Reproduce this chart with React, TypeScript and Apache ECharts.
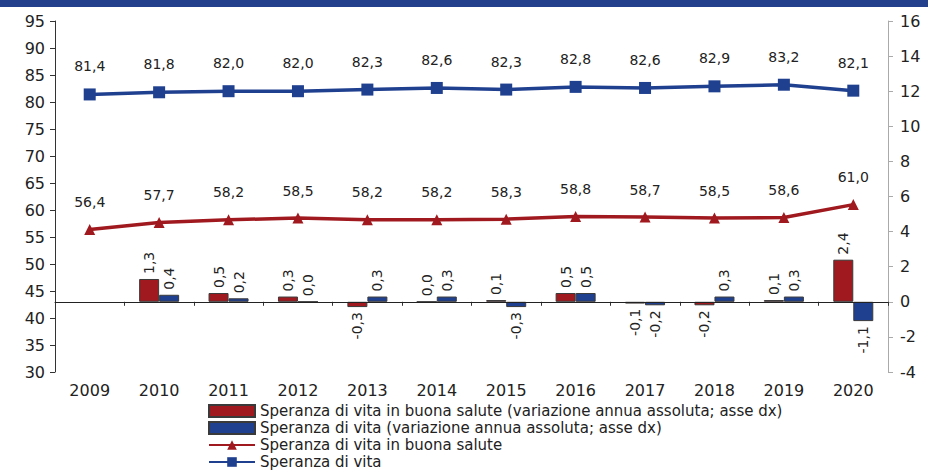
import React, { useEffect, useRef } from "react";
import * as echarts from "echarts";

const years = ["2009", "2010", "2011", "2012", "2013", "2014", "2015", "2016", "2017", "2018", "2019", "2020"];
const lifeExp = [81.4, 81.8, 82.0, 82.0, 82.3, 82.6, 82.3, 82.8, 82.6, 82.9, 83.2, 82.1];
const healthyLifeExp = [56.4, 57.7, 58.2, 58.5, 58.2, 58.2, 58.3, 58.8, 58.7, 58.5, 58.6, 61.0];
const healthyChange: (number | null)[] = [null, 1.3, 0.5, 0.3, -0.3, 0.0, 0.1, 0.5, -0.1, -0.2, 0.1, 2.4];
const lifeChange: (number | null)[] = [null, 0.4, 0.2, 0.0, 0.3, 0.3, -0.3, 0.5, -0.2, 0.3, 0.3, -1.1];

const names = [
  "Speranza di vita in buona salute (variazione annua assoluta; asse dx)",
  "Speranza di vita (variazione annua assoluta; asse dx)",
  "Speranza di vita in buona salute",
  "Speranza di vita",
];

const RED = "#A0191E";
const BLUE = "#1F3F8F";
const FONT = "DejaVu Sans, Verdana, sans-serif";

const fmt = (v: number) => v.toFixed(1).replace(".", ",");

function barData(arr: (number | null)[]) {
  return arr.map((v) => {
    if (v === null) return "-";
    const neg = v < 0;
    return {
      value: v,
      label: {
        show: true,
        position: neg ? "bottom" : "top",
        rotate: 90,
        align: neg ? "right" : "left",
        verticalAlign: "middle",
        distance: 5,
        formatter: () => fmt(v),
        fontSize: 14,
        color: "#222",
        fontFamily: FONT,
      },
    };
  });
}

export default function App() {
  const ref = useRef<HTMLDivElement>(null);
  useEffect(() => {
    document.body.style.margin = "0";
    const chart = echarts.init(ref.current!, undefined, { renderer: "svg" });
    chart.setOption({
      animation: false,
      textStyle: { fontFamily: FONT },
      graphic: [
        { type: "rect", left: 0, top: 0, shape: { width: 928, height: 7 }, style: { fill: "#22408C" } },
      ],
      grid: { left: 55, right: 40, top: 21, bottom: 103 },
      legend: {
        orient: "vertical",
        left: 203,
        top: 398,
        height: 100,
        itemGap: 1,
        itemWidth: 46,
        itemHeight: 12,
        textStyle: { fontSize: 15, lineHeight: 16, color: "#222", fontFamily: FONT },
        data: [
          { name: names[0], icon: "rect" },
          { name: names[1], icon: "rect" },
          { name: names[2] },
          { name: names[3] },
        ],
      },
      xAxis: {
        type: "category",
        data: years,
        axisLine: { show: true, lineStyle: { color: "#333" } },
        axisTick: { show: true, length: 4, lineStyle: { color: "#333" } },
        axisLabel: { fontSize: 16, color: "#222", margin: 10 },
      },
      yAxis: [
        {
          type: "value",
          min: 30,
          max: 95,
          interval: 5,
          splitLine: { show: false },
          axisLine: { show: true, lineStyle: { color: "#333" } },
          axisTick: { show: true, length: 5, lineStyle: { color: "#333" } },
          axisLabel: { fontSize: 16, color: "#222", margin: 10 },
        },
        {
          type: "value",
          min: -4,
          max: 16,
          interval: 2,
          splitLine: { show: false },
          axisLine: { show: true, lineStyle: { color: "#aaa" } },
          axisTick: { show: true, length: 5, lineStyle: { color: "#aaa" } },
          axisLabel: { fontSize: 16, color: "#222", margin: 12 },
        },
      ],
      series: [
        {
          name: names[0],
          type: "bar",
          yAxisIndex: 1,
          data: barData(healthyChange),
          barWidth: 20,
          barGap: "0%",
          itemStyle: { color: RED, borderColor: "#3a3a3a", borderWidth: 1 },
          markLine: {
            silent: true,
            symbol: "none",
            label: { show: false },
            lineStyle: { color: "#222", width: 1, type: "solid" },
            data: [{ yAxis: 0 }],
          },
        },
        {
          name: names[1],
          type: "bar",
          yAxisIndex: 1,
          data: barData(lifeChange),
          barWidth: 20,
          barGap: "0%",
          itemStyle: { color: BLUE, borderColor: "#3a3a3a", borderWidth: 1 },
        },
        {
          name: names[2],
          type: "line",
          yAxisIndex: 0,
          data: healthyLifeExp,
          symbol: "triangle",
          symbolSize: 11,
          lineStyle: { color: RED, width: 3.5 },
          itemStyle: { color: RED },
          label: {
            show: true,
            position: "top",
            distance: 15,
            fontSize: 14,
            color: "#222",
            formatter: (p: any) => fmt(p.value),
          },
        },
        {
          name: names[3],
          type: "line",
          yAxisIndex: 0,
          data: lifeExp,
          symbol: "rect",
          symbolSize: 12,
          lineStyle: { color: BLUE, width: 3.5 },
          itemStyle: { color: BLUE },
          label: {
            show: true,
            position: "top",
            distance: 15,
            fontSize: 14,
            color: "#222",
            formatter: (p: any) => fmt(p.value),
          },
        },
      ],
    });
    return () => chart.dispose();
  }, []);
  return <div ref={ref} style={{ width: 928, height: 475 }} />;
}
